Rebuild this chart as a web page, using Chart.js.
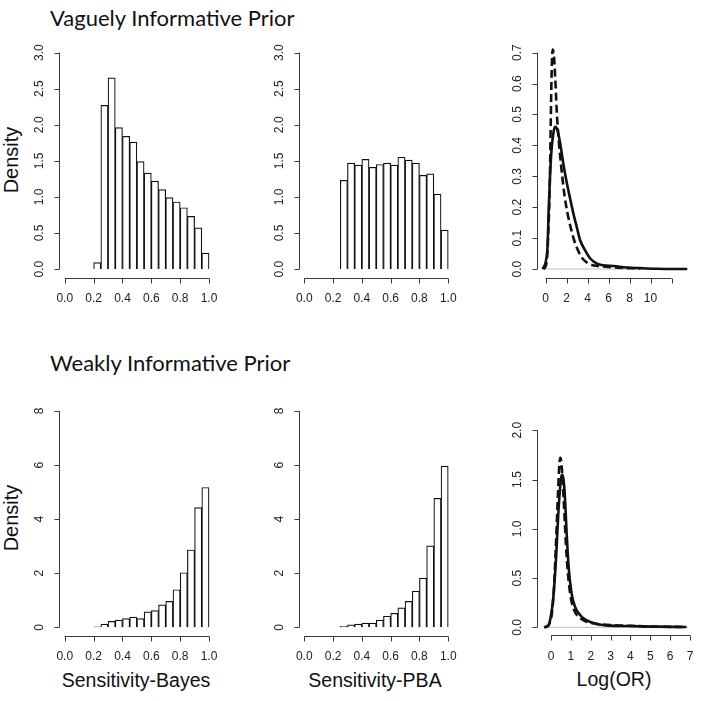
<!DOCTYPE html>
<html>
<head>
<meta charset="utf-8">
<script src="https://cdn.jsdelivr.net/npm/chart.js@4.4.1/dist/chart.umd.min.js"></script>
<style>
body{margin:0;background:#fff;width:701px;height:701px;position:relative;overflow:hidden;font-family:"Liberation Sans",Arial,sans-serif}
canvas{position:absolute;left:0;top:0}
.t{position:absolute;white-space:nowrap;color:#111}
.ttl{font-family:Lato,"Open Sans",sans-serif;font-size:22px;line-height:22px}
.dens{width:100px;height:20px;font-size:20px;line-height:20px;text-align:center;transform:rotate(-90deg)}
.xl{width:200px;font-size:19.5px;line-height:19.5px;text-align:center}
</style>
</head>
<body>
<div class="t ttl" style="left:50px;top:7px">Vaguely Informative Prior</div>
<div class="t ttl" style="left:50px;top:352px">Weakly Informative Prior</div>
<div class="t dens" style="left:-39px;top:150px">Density</div>
<div class="t dens" style="left:-39px;top:508px">Density</div>
<div class="t xl" style="left:36px;top:671px">Sensitivity-Bayes</div>
<div class="t xl" style="left:275px;top:671px">Sensitivity-PBA</div>
<div class="t xl" style="left:514px;top:670px">Log(OR)</div>
<canvas id="c1" width="701" height="701"></canvas>
<canvas id="c2" width="701" height="701"></canvas>
<canvas id="c3" width="701" height="701"></canvas>
<canvas id="c4" width="701" height="701"></canvas>
<canvas id="c5" width="701" height="701"></canvas>
<canvas id="c6" width="701" height="701"></canvas>
<script>
// histogram bins (left edges), width 0.05
var binWidth = 0.05;
var bayesBinStarts = [0.20,0.25,0.30,0.35,0.40,0.45,0.50,0.55,0.60,0.65,0.70,0.75,0.80,0.85,0.90,0.95];
var pbaBinStarts = [0.25,0.30,0.35,0.40,0.45,0.50,0.55,0.60,0.65,0.70,0.75,0.80,0.85,0.90,0.95];

// vaguely informative prior
var vagueBayesDensity = [0.09,2.27,2.65,1.96,1.84,1.76,1.49,1.33,1.22,1.10,0.99,0.93,0.85,0.73,0.57,0.22];
var vaguePbaDensity = [1.23,1.47,1.44,1.52,1.41,1.45,1.47,1.44,1.55,1.51,1.47,1.30,1.32,1.04,0.54];
var vagueOrX_bayes = [-0.27,0.17,0.30,0.43,0.56,0.75,0.90,1.13,1.38,1.70,2.02,2.33,2.65,2.97,3.29,3.76,4.24,4.87,5.51,6.46,7.73,9.0,10.6,13.5];
var vagueOrY_bayes = [0,0.06,0.19,0.30,0.38,0.44,0.46,0.45,0.41,0.34,0.28,0.23,0.18,0.137,0.094,0.061,0.035,0.018,0.012,0.010,0.005,0.003,0.001,0];
var vagueOrX_pba = [-0.2,0.1,0.3,0.42,0.5,0.58,0.68,0.8,0.95,1.1,1.25,1.5,1.8,2.1,2.5,2.8,3.1,3.5,4.0,4.5,5.5,7.0,9.0];
var vagueOrY_pba = [0,0.02,0.15,0.3,0.48,0.63,0.71,0.69,0.6,0.49,0.42,0.33,0.24,0.18,0.12,0.085,0.06,0.035,0.02,0.012,0.008,0.004,0.002];

// weakly informative prior
var weakBayesDensity = [0.02,0.12,0.22,0.27,0.32,0.38,0.32,0.57,0.62,0.83,0.96,1.39,2.02,2.86,4.43,5.17];
var weakPbaDensity = [0.04,0.09,0.12,0.16,0.16,0.27,0.41,0.52,0.72,0.96,1.34,1.82,3.01,4.77,5.96];
var weakOrX_bayes = [-0.35,-0.13,-0.01,0.12,0.26,0.37,0.49,0.56,0.63,0.69,0.79,0.89,1.04,1.21,1.46,1.80,2.30,2.97,3.97,5.15,6.82];
var weakOrY_bayes = [0,0.02,0.11,0.31,0.72,1.16,1.49,1.55,1.50,1.36,0.95,0.61,0.34,0.21,0.125,0.07,0.034,0.017,0.013,0.007,0.003];
var weakOrX_pba = [-0.3,-0.1,0.05,0.15,0.25,0.35,0.43,0.48,0.55,0.65,0.75,0.85,1.0,1.2,1.5,1.9,2.5,3.2,4.0,5.0,6.0,6.8];
var weakOrY_pba = [0,0.03,0.15,0.4,0.85,1.35,1.68,1.72,1.6,1.25,0.85,0.55,0.3,0.16,0.09,0.05,0.03,0.02,0.015,0.008,0.005,0.003];

// tick values / labels
var propTicks = [0,0.2,0.4,0.6,0.8,1.0];
var propTickLabels = ['0.0','0.2','0.4','0.6','0.8','1.0'];
var vagueHistYTicks = [0,0.5,1,1.5,2,2.5,3];
var vagueHistYLabels = ['0.0','0.5','1.0','1.5','2.0','2.5','3.0'];
var vagueOrXTicks = [0,2,4,6,8,10,12];
var vagueOrXLabels = ['0','2','4','6','8','10',''];
var vagueOrYTicks = [0,0.1,0.2,0.3,0.4,0.5,0.6,0.7];
var vagueOrYLabels = ['0.0','0.1','0.2','0.3','0.4','0.5','0.6','0.7'];
var weakHistYTicks = [0,2,4,6,8];
var weakHistYLabels = ['0','2','4','6','8'];
var weakOrXTicks = [0,1,2,3,4,5,6,7];
var weakOrXLabels = ['0','1','2','3','4','5','6','7'];
var weakOrYTicks = [0,0.5,1,1.5,2];
var weakOrYLabels = ['0.0','0.5','1.0','1.5','2.0'];

// R style axes: line only from first to last tick, ticks outward
var rAxes = {
  id: 'rAxes',
  afterDraw: function(chart){
    var o = chart.options.plugins.rAxes;
    if(!o || !o.xTicks) return;
    var ctx = chart.ctx, xs = chart.scales.x, ys = chart.scales.y, a = chart.chartArea;
    ctx.save();
    ctx.strokeStyle = '#3a3a3a';
    ctx.lineWidth = 1;
    ctx.fillStyle = '#222';
    ctx.font = '12px "Liberation Sans", Arial, sans-serif';
    var yb = Math.round(a.bottom) + 0.5;
    var xl = Math.round(a.left) + 0.5;
    ctx.beginPath();
    ctx.moveTo(xs.getPixelForValue(o.xTicks[0]), yb);
    ctx.lineTo(xs.getPixelForValue(o.xTicks[o.xTicks.length-1]), yb);
    o.xTicks.forEach(function(v){
      var p = Math.round(xs.getPixelForValue(v)) + 0.5;
      ctx.moveTo(p, yb); ctx.lineTo(p, yb + 5);
    });
    ctx.moveTo(xl, ys.getPixelForValue(o.yTicks[0]));
    ctx.lineTo(xl, ys.getPixelForValue(o.yTicks[o.yTicks.length-1]));
    o.yTicks.forEach(function(v){
      var p = Math.round(ys.getPixelForValue(v)) + 0.5;
      ctx.moveTo(xl, p); ctx.lineTo(xl - 5, p);
    });
    ctx.stroke();
    ctx.textAlign = 'center';
    ctx.textBaseline = 'middle';
    o.xTicks.forEach(function(v, i){
      if(o.xLabels[i]) ctx.fillText(o.xLabels[i], xs.getPixelForValue(v), a.bottom + 21);
    });
    o.yTicks.forEach(function(v, i){
      ctx.save();
      ctx.translate(a.left - 19, ys.getPixelForValue(v));
      ctx.rotate(-Math.PI/2);
      ctx.fillText(o.yLabels[i], 0, 0);
      ctx.restore();
    });
    ctx.restore();
  }
};
Chart.register(rAxes);

function opciones(area, xr, yr, ejes){
  return {
    responsive: false,
    animation: false,
    events: [],
    layout: {padding: {left: area[0], top: area[1], right: 701 - area[2], bottom: 701 - area[3]}},
    plugins: {legend: {display: false}, tooltip: {enabled: false}, rAxes: ejes},
    scales: {
      x: {type: 'linear', display: false, min: xr[0], max: xr[1], offset: false},
      y: {type: 'linear', display: false, min: yr[0], max: yr[1]}
    }
  };
}

function histograma(id, starts, dens, area, yr, yTicks, yLabels){
  var puntos = [];
  for(var i = 0; i < starts.length; i++){
    puntos.push({x: starts[i] + binWidth/2, y: dens[i]});
  }
  new Chart(document.getElementById(id), {
    type: 'bar',
    data: {datasets: [{
      data: puntos,
      backgroundColor: '#ffffff',
      borderColor: '#111111',
      borderWidth: 1.2,
      barPercentage: 1,
      categoryPercentage: 1
    }]},
    options: opciones(area, [-0.04, 1.04], yr, {xTicks: propTicks, xLabels: propTickLabels, yTicks: yTicks, yLabels: yLabels})
  });
}

function pares(xs, ys){
  var r = [];
  for(var i = 0; i < xs.length; i++) r.push({x: xs[i], y: ys[i]});
  return r;
}

function densidad(id, xb, yb, xp, yp, area, xr, yr, base, ejes){
  new Chart(document.getElementById(id), {
    type: 'line',
    data: {datasets: [
      {data: pares(xp, yp), borderColor: '#111', borderWidth: 2.6, borderDash: [8,4], pointRadius: 0, fill: false, cubicInterpolationMode: 'monotone', order: 0},
      {data: pares(xb, yb), borderColor: '#111', borderWidth: 2.6, pointRadius: 0, fill: false, cubicInterpolationMode: 'monotone', order: 1},
      {data: [{x: base[0], y: 0}, {x: base[1], y: 0}], borderColor: '#bdbdbd', borderWidth: 1, pointRadius: 0, order: 2}
    ]},
    options: opciones(area, xr, yr, ejes)
  });
}

histograma('c1', bayesBinStarts, vagueBayesDensity, [59, 44, 214.8, 277.7], [-0.12, 3.12], vagueHistYTicks, vagueHistYLabels);
histograma('c2', pbaBinStarts, vaguePbaDensity, [298.5, 44, 454, 277.7], [-0.12, 3.12], vagueHistYTicks, vagueHistYLabels);
densidad('c3', vagueOrX_bayes, vagueOrY_bayes, vagueOrX_pba, vagueOrY_pba, [536.7, 44, 688, 277.7], [-0.84, 13.57], [-0.028, 0.728], [-0.3, 13.5],
  {xTicks: vagueOrXTicks, xLabels: vagueOrXLabels, yTicks: vagueOrYTicks, yLabels: vagueOrYLabels});
histograma('c4', bayesBinStarts, weakBayesDensity, [59, 402.3, 214.8, 636], [-0.32, 8.32], weakHistYTicks, weakHistYLabels);
histograma('c5', pbaBinStarts, weakPbaDensity, [298.5, 402.3, 454, 636], [-0.32, 8.32], weakHistYTicks, weakHistYLabels);
densidad('c6', weakOrX_bayes, weakOrY_bayes, weakOrX_pba, weakOrY_pba, [536.7, 422.4, 690, 635.2], [-0.72, 7.0], [-0.08, 2.08], [-0.35, 6.9],
  {xTicks: weakOrXTicks, xLabels: weakOrXLabels, yTicks: weakOrYTicks, yLabels: weakOrYLabels});
</script>
</body>
</html>
